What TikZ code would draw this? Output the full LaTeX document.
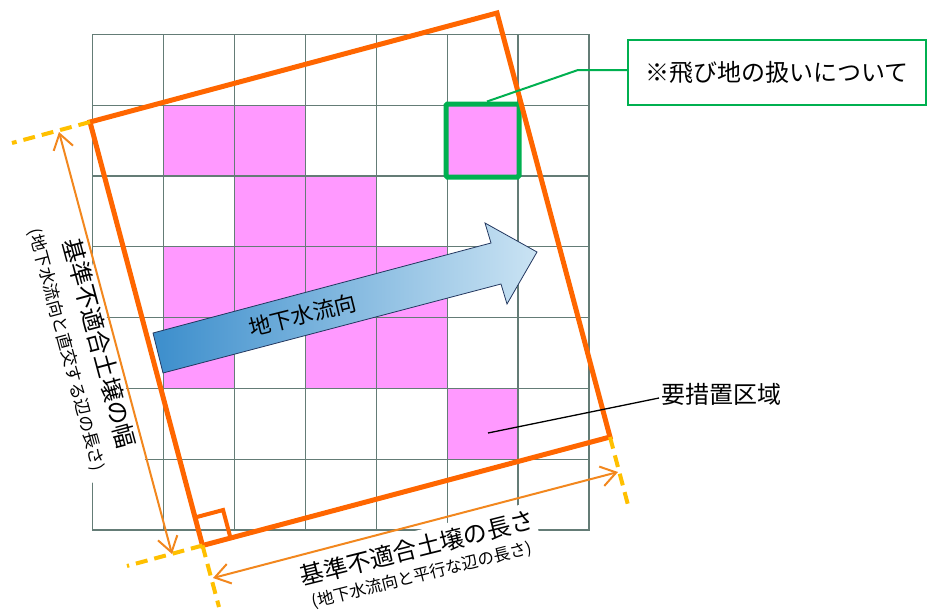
\documentclass[tikz,border=0pt]{standalone}
\usepackage{fontspec}
\setmainfont{Noto Sans CJK JP}
\usetikzlibrary{arrows.meta,calc}
\definecolor{pinkc}{RGB}{255,153,255}
\definecolor{gridc}{RGB}{100,124,118}
\definecolor{orangec}{RGB}{255,102,0}
\definecolor{dimc}{RGB}{242,135,30}
\definecolor{yellowc}{RGB}{255,192,0}
\definecolor{greenc}{RGB}{0,176,80}
\definecolor{bluedark}{RGB}{60,142,204}
\definecolor{bluelight}{RGB}{202,227,243}
\definecolor{navyc}{RGB}{35,55,95}
\begin{document}
\begin{tikzpicture}[x=1pt,y=-1pt,
  cellfill/.style={fill=pinkc},
  gridline/.style={draw=gridc,line width=1.2pt,line cap=rect},
  bigrect/.style={draw=orangec,line width=5pt,line join=miter},
  rightmark/.style={draw=orangec,line width=4pt,line join=miter},
  extline/.style={draw=yellowc,line width=4pt,dash pattern=on 12pt off 7pt},
  dimarrow/.style={draw=dimc,line width=2pt,
    {Straight Barb[length=15pt,width=20pt]}-{Straight Barb[length=15pt,width=20pt]}},
  flowarrow/.style={draw=navyc,line width=0.8pt,left color=bluedark,right color=bluelight},
  mainlbl/.style={inner sep=0pt,font=\fontsize{24pt}{28pt}\selectfont},
  leftsub/.style={inner sep=0pt,font=\fontsize{17pt}{21pt}\selectfont},
  botsub/.style={inner sep=0pt,font=\fontsize{16.5pt}{20pt}\selectfont},
  flowlbl/.style={inner sep=0pt,font=\fontsize{22pt}{26pt}\selectfont},
  notebox/.style={draw=greenc,line width=2pt,minimum width=298pt,minimum height=65pt,
    inner sep=0pt,font=\fontsize{24pt}{28pt}\selectfont},
  enclavebox/.style={draw=greenc,line width=5pt,minimum width=73pt,minimum height=73pt,
    inner sep=0pt,rounded corners=1.5pt},
  greenleader/.style={draw=greenc,line width=2pt},
  blackleader/.style={draw=black,line width=1.3pt},
  arealbl/.style={inner sep=0pt,anchor=west,font=\fontsize{24pt}{28pt}\selectfont}
]
\useasboundingbox (0,0) rectangle (931,613);

% pink cells and grid
\begin{scope}[shift={(92.5,34.3)},x=70.93pt,y=-70.8pt]
  \foreach \c/\r in {1/1,2/1,5/1,2/2,3/2,1/3,2/3,3/3,4/3,1/4,3/4,4/4,5/5}
    \fill[cellfill] (\c,\r) rectangle ++(1,1);
  \foreach \i in {0,...,7} {
    \draw[gridline] (\i,0) -- (\i,7);
    \draw[gridline] (0,\i) -- (7,\i);
  }
\end{scope}

% white backgrounds behind the dimension labels
\begin{scope}[shift={(99.8,343)},rotate=-75,x=1pt,y=1pt]
  \fill[white] (-133,-44.8) rectangle (133,13.3);
\end{scope}
\begin{scope}[shift={(417,548)},rotate=14,x=1pt,y=1pt]
  \fill[white] (-124,-37.7) rectangle (122,17);
\end{scope}

% enclave cell frame
\node[enclavebox] (enclave) at (482.5,140.5) {};

% groundwater flow arrow
\draw[flowarrow] (153,333) -- (491,243) -- (485,223) -- (537,252) -- (507,304) -- (501,284) -- (163,373) -- cycle;
\node[flowlbl,rotate=14] (flow) at (302.5,315) {地下水流向};

% big orange rectangle
\coordinate (TL) at (90,122);
\coordinate (TR) at (497,13);
\coordinate (BR) at (610,437);
\coordinate (BL) at (202.5,545.5);
\draw[bigrect] (TL) -- (TR) -- (BR) -- (BL) -- cycle;

% right angle mark
\coordinate (ra1) at ($(BL)!29pt!(TL)$);
\coordinate (ra2) at ($(BL)!29pt!(BR)$);
\coordinate (ra3) at ($(ra1)+(ra2)-(BL)$);
\draw[rightmark] (ra1) -- (ra3) -- (ra2);

% yellow dashed extension lines
\coordinate (e1) at (12,143);
\coordinate (e2) at (127,566);
\coordinate (e3) at (219,607);
\coordinate (e4) at (628,505);
\draw[extline] (TL) -- (e1);
\draw[extline] (BL) -- (e2);
\draw[extline] (BL) -- (e3);
\draw[extline] (BR) -- (e4);

% dimension arrows
\coordinate (w1) at (59,132);
\coordinate (w2) at (172,554);
\draw[dimarrow] (w1) -- (w2);
\coordinate (l1) at (213,578);
\coordinate (l2) at (618,472);
\draw[dimarrow] (l1) -- (l2);

% dimension labels
\node[mainlbl,rotate=-75] (wmain) at (99.8,343) {基準不適合土壌の幅};
\node[leftsub,rotate=-75] (wsub) at (66.5,350) {(地下水流向と直交する辺の長さ)};
\node[mainlbl,rotate=14] (lmain) at (417,548) {基準不適合土壌の長さ};
\node[botsub,rotate=14] (lsub) at (422,575) {(地下水流向と平行な辺の長さ)};

% note box and leader
\node[notebox] (note) at (776.9,72.2) {※飛び地の扱いについて};
\coordinate (g1) at (578,70);
\draw[greenleader] (note.west |- g1) -- (g1) -- ($(enclave.north)+(4.5,0)$);

% required-measures area label and leader
\node[arealbl] (area) at (661,394) {要措置区域};
\coordinate (cellpt) at (488,433);
\draw[blackleader] ($(area.west)+(-2,4)$) -- (cellpt);
\end{tikzpicture}
\end{document}
